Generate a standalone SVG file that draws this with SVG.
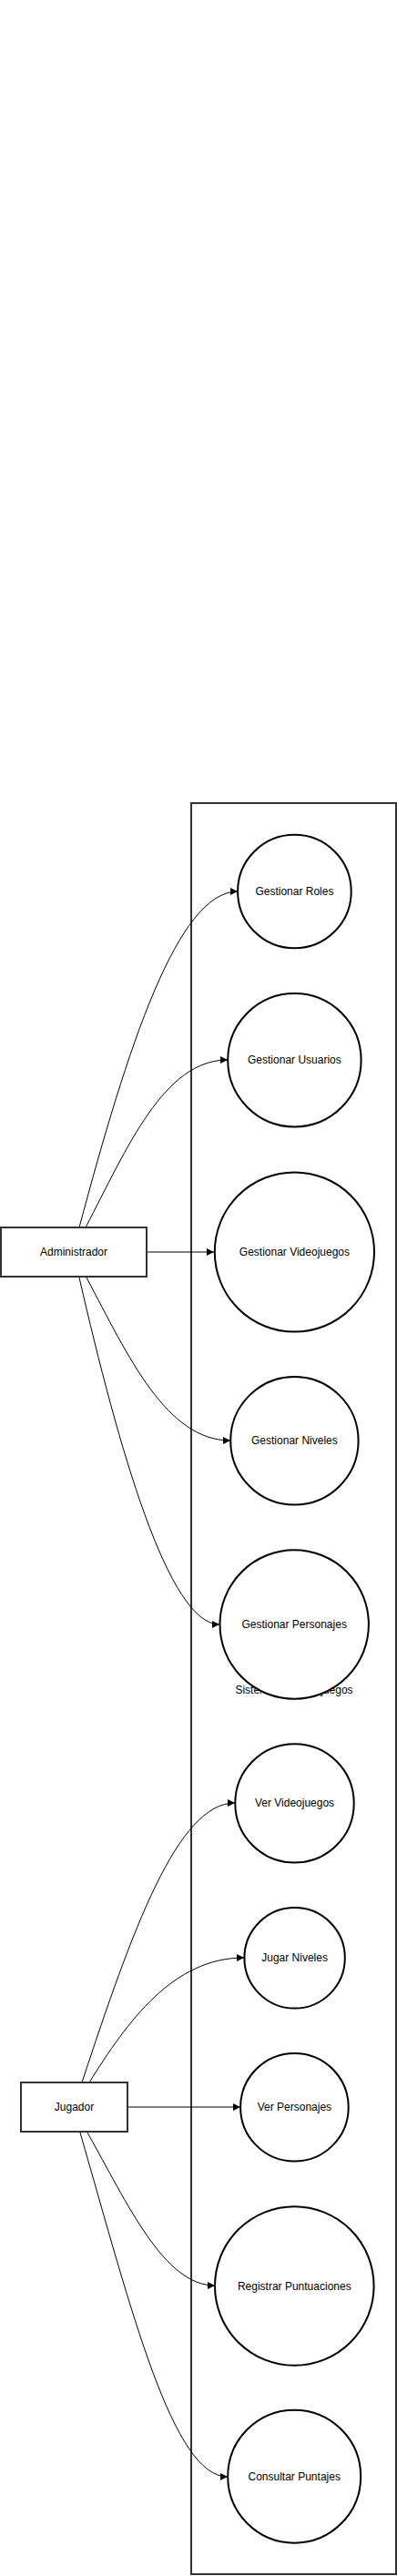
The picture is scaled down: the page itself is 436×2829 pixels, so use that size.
<svg xmlns="http://www.w3.org/2000/svg" width="436" height="2829" viewBox="0 0 436 2829">
<style>
  .lbl { font-family: "Liberation Sans", Arial, sans-serif; font-size: 12px; fill: #000; text-anchor: middle; dominant-baseline: central; }
  .uc { fill: #fff; stroke: #000; stroke-width: 2; }
  .actor { fill: #fff; stroke: #333; stroke-width: 2; }
  .sys { fill: none; stroke: #333; stroke-width: 2; }
  .edge { fill: none; stroke: #000; stroke-width: 1; marker-end: url(#arrow); }
</style>
<defs>
  <marker id="arrow" viewBox="0 0 10 10" refX="10" refY="5" markerWidth="9" markerHeight="8" markerUnits="userSpaceOnUse" orient="auto">
    <path d="M0,0 L10,5 L0,10 z" fill="#000"/>
  </marker>
</defs>
<rect width="436" height="2829" fill="#fff"/>
<g id="sistema">
  <rect class="sys" x="210" y="882" width="225" height="1945"/>
  <text class="lbl" x="323" y="1856">Sistema de Videojuegos</text>
</g>
<g id="connectors">
  <path class="edge" d="M87,1348 C140,1150 195,979 261,979"/>
  <path class="edge" d="M94,1348 C140,1260 180,1164 250,1164"/>
  <path class="edge" d="M161,1375 L235,1375"/>
  <path class="edge" d="M95,1403 C141,1490 183,1582 253,1582"/>
  <path class="edge" d="M87,1403 C130,1590 185,1784 241,1784"/>
  <path class="edge" d="M90,2287 C145,2120 195,1980 258,1980"/>
  <path class="edge" d="M98,2287 C140,2220 190,2150 268,2150"/>
  <path class="edge" d="M140,2314 L264,2314"/>
  <path class="edge" d="M96,2342 C140,2420 180,2510 236,2510"/>
  <path class="edge" d="M88,2342 C145,2540 190,2720 250,2720"/>
</g>
<g id="administrador">
  <rect class="actor" x="1" y="1348" width="160" height="54"/>
  <text class="lbl" x="81" y="1375">Administrador</text>
</g>
<g id="jugador">
  <rect class="actor" x="23" y="2287" width="117" height="54"/>
  <text class="lbl" x="81.5" y="2314">Jugador</text>
</g>
<g id="gestionar-roles">
  <circle class="uc" cx="323.4" cy="979" r="62.3"/>
  <text class="lbl" x="323.4" y="979">Gestionar Roles</text>
</g>
<g id="gestionar-usuarios">
  <circle class="uc" cx="323.4" cy="1164.2" r="73.2"/>
  <text class="lbl" x="323.4" y="1164.2">Gestionar Usuarios</text>
</g>
<g id="gestionar-videojuegos">
  <circle class="uc" cx="323.4" cy="1375" r="87.6"/>
  <text class="lbl" x="323.4" y="1375">Gestionar Videojuegos</text>
</g>
<g id="gestionar-niveles">
  <circle class="uc" cx="323.4" cy="1582.3" r="70.2"/>
  <text class="lbl" x="323.4" y="1582.3">Gestionar Niveles</text>
</g>
<g id="gestionar-personajes">
  <circle class="uc" cx="323.2" cy="1784" r="81.7"/>
  <text class="lbl" x="323.2" y="1784">Gestionar Personajes</text>
</g>
<g id="ver-videojuegos">
  <circle class="uc" cx="323.5" cy="1980.4" r="65.2"/>
  <text class="lbl" x="323.5" y="1980.4">Ver Videojuegos</text>
</g>
<g id="jugar-niveles">
  <circle class="uc" cx="323.6" cy="2150.3" r="55.2"/>
  <text class="lbl" x="323.6" y="2150.3">Jugar Niveles</text>
</g>
<g id="ver-personajes">
  <circle class="uc" cx="323.4" cy="2314.2" r="59.3"/>
  <text class="lbl" x="323.4" y="2314.2">Ver Personajes</text>
</g>
<g id="registrar-puntuaciones">
  <circle class="uc" cx="323.3" cy="2510.5" r="87.3"/>
  <text class="lbl" x="323.3" y="2510.5">Registrar Puntuaciones</text>
</g>
<g id="consultar-puntajes">
  <circle class="uc" cx="323.2" cy="2719.7" r="73"/>
  <text class="lbl" x="323.2" y="2719.7">Consultar Puntajes</text>
</g>
</svg>
